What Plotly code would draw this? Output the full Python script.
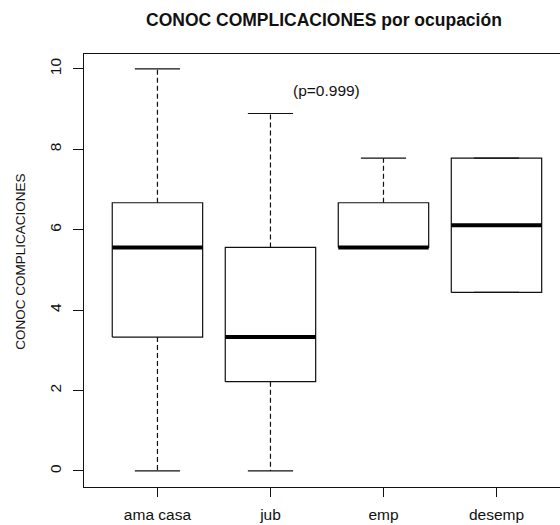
import plotly.graph_objects as go

categories = ["ama casa", "jub", "emp", "desemp"]
mins = [0.0, 0.0, 5.56, 4.44]
q1 = [3.33, 2.22, 5.56, 4.44]
medians = [5.56, 3.33, 5.56, 6.11]
q3 = [6.67, 5.56, 6.67, 7.78]
maxs = [10.0, 8.89, 7.78, 7.78]
y_ticks = [0, 2, 4, 6, 8, 10]
title_text = "CONOC COMPLICACIONES por ocupación"
y_title = "CONOC COMPLICACIONES"
p_text = "(p=0.999)"

FONT = "Liberation Sans, Arial, sans-serif"
HALF_BOX = 0.4
HALF_STAPLE = 0.2

box_x, box_y = [], []
med_x, med_y = [], []
wh_x, wh_y = [], []
st_x, st_y = [], []
for i in range(len(categories)):
    c = i + 1
    box_x += [c - HALF_BOX, c + HALF_BOX, c + HALF_BOX, c - HALF_BOX, c - HALF_BOX, None]
    box_y += [q1[i], q1[i], q3[i], q3[i], q1[i], None]
    med_x += [c - HALF_BOX, c + HALF_BOX, None]
    med_y += [medians[i], medians[i], None]
    wh_x += [c, c, None, c, c, None]
    wh_y += [q3[i], maxs[i], None, q1[i], mins[i], None]
    st_x += [c - HALF_STAPLE, c + HALF_STAPLE, None, c - HALF_STAPLE, c + HALF_STAPLE, None]
    st_y += [maxs[i], maxs[i], None, mins[i], mins[i], None]

fig = go.Figure()
fig.add_trace(go.Scatter(x=wh_x, y=wh_y, mode="lines",
                         line=dict(color="#111", width=1.2, dash="5px,3px"),
                         hoverinfo="skip", showlegend=False))
fig.add_trace(go.Scatter(x=st_x, y=st_y, mode="lines",
                         line=dict(color="#111", width=1.2),
                         hoverinfo="skip", showlegend=False))
fig.add_trace(go.Scatter(x=box_x, y=box_y, mode="lines",
                         line=dict(color="#111", width=1.2),
                         hoverinfo="skip", showlegend=False))
fig.add_trace(go.Scatter(x=med_x, y=med_y, mode="lines",
                         line=dict(color="#000", width=4),
                         hoverinfo="skip", showlegend=False))

fig.add_annotation(x=2.5, y=9.45, text=p_text, showarrow=False,
                   font=dict(family=FONT, size=15.5, color="#111"))
fig.add_annotation(xref="paper", yref="paper", x=0, y=0.52, xshift=-63,
                   text=y_title, textangle=-90, showarrow=False,
                   xanchor="center", yanchor="middle",
                   font=dict(family=FONT, size=13.5, color="#111"))
fig.add_annotation(xref="paper", yref="paper", x=0.504, y=1, yshift=34,
                   text="<b>" + title_text + "</b>", showarrow=False,
                   xanchor="center", yanchor="middle",
                   font=dict(family=FONT, size=17.5, color="#111"))

fig.update_layout(
    width=560, height=525,
    margin=dict(l=84, r=0, t=54, b=38),
    paper_bgcolor="white", plot_bgcolor="white",
    font=dict(family=FONT, size=15.5, color="#111"),
    xaxis=dict(range=[0.35, 4.562], tickmode="array",
               tickvals=[1, 2, 3, 4], ticktext=categories,
               showgrid=False, zeroline=False, showline=True, mirror=True,
               linecolor="#111", linewidth=1.2,
               ticks="outside", ticklen=9, tickcolor="#111", tickwidth=1.2,
               ticklabelstandoff=4,
               tickfont=dict(family=FONT, size=15.5, color="#111")),
    yaxis=dict(range=[-0.4, 10.37], tickmode="array", tickvals=y_ticks,
               showgrid=False, zeroline=False, showline=True, mirror=False,
               linecolor="#111", linewidth=1.2,
               ticks="outside", ticklen=10, tickcolor="#111", tickwidth=1.2,
               tickangle=-90, ticklabelstandoff=6,
               tickfont=dict(family=FONT, size=15.5, color="#111")),
)

fig.write_html(
    "out.html",
    config={"displayModeBar": False},
    post_script="document.body.style.margin='0';document.body.style.padding='0';",
)
